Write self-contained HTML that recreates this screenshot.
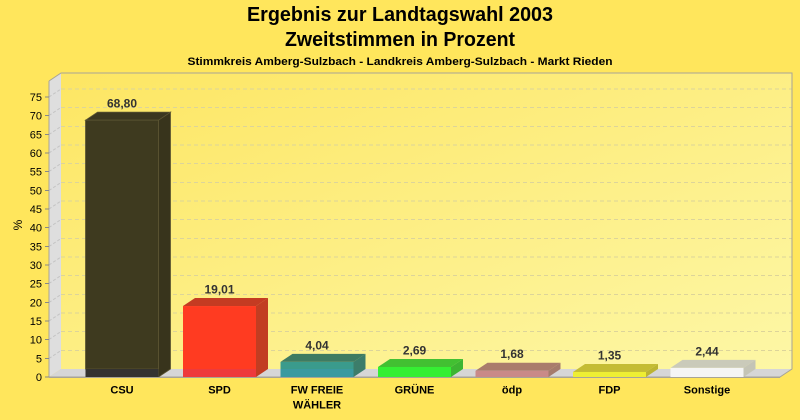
<!DOCTYPE html>
<html><head><meta charset="utf-8"><style>
html,body{margin:0;padding:0;background:#ffe65c;}
svg{display:block;}
text{font-family:"Liberation Sans",Arial,sans-serif;}
</style></head><body>
<svg width="800" height="420" viewBox="0 0 800 420" xmlns="http://www.w3.org/2000/svg">
<defs>
<linearGradient id="wall" x1="0" y1="0" x2="1" y2="1">
<stop offset="0" stop-color="#fde663"/>
<stop offset="1" stop-color="#fdf7a6"/>
</linearGradient>
</defs>
<rect x="0" y="0" width="800" height="420" fill="#ffe65c"/>
<!-- titles -->
<text x="400" y="21" text-anchor="middle" font-size="20" font-weight="bold" fill="#000" textLength="306" lengthAdjust="spacingAndGlyphs">Ergebnis zur Landtagswahl 2003</text>
<text x="400" y="46" text-anchor="middle" font-size="20" font-weight="bold" fill="#000" textLength="230" lengthAdjust="spacingAndGlyphs">Zweitstimmen in Prozent</text>
<text x="400" y="65" text-anchor="middle" font-size="11" font-weight="bold" fill="#000" textLength="425" lengthAdjust="spacingAndGlyphs">Stimmkreis Amberg-Sulzbach - Landkreis Amberg-Sulzbach - Markt Rieden</text>

<!-- back wall -->
<rect x="61" y="73" width="731" height="296" fill="url(#wall)"/>
<!-- side wall -->
<polygon points="49,81 61,73 61,369 49,377" fill="#dedede"/>
<!-- floor -->
<polygon points="49,377 61,369 792,369 780,377" fill="#d6d6d6"/>

<!-- gridlines back -->
<g stroke="#dcd49a" stroke-width="1" stroke-dasharray="4,3" fill="none">
<line x1="61" y1="350.5" x2="792" y2="350.5"/>
<line x1="61" y1="331.5" x2="792" y2="331.5"/>
<line x1="61" y1="313" x2="792" y2="313"/>
<line x1="61" y1="294.5" x2="792" y2="294.5"/>
<line x1="61" y1="275.5" x2="792" y2="275.5"/>
<line x1="61" y1="257" x2="792" y2="257"/>
<line x1="61" y1="238.5" x2="792" y2="238.5"/>
<line x1="61" y1="219.5" x2="792" y2="219.5"/>
<line x1="61" y1="201" x2="792" y2="201"/>
<line x1="61" y1="182.5" x2="792" y2="182.5"/>
<line x1="61" y1="163.5" x2="792" y2="163.5"/>
<line x1="61" y1="145" x2="792" y2="145"/>
<line x1="61" y1="126.5" x2="792" y2="126.5"/>
<line x1="61" y1="107.5" x2="792" y2="107.5"/>
<line x1="61" y1="89" x2="792" y2="89"/>
</g>
<!-- gridlines side -->
<g stroke="#c4c4c4" stroke-width="1" stroke-dasharray="3,2" fill="none">
<line x1="49" y1="358.5" x2="61" y2="350.5"/>
<line x1="49" y1="339.5" x2="61" y2="331.5"/>
<line x1="49" y1="321" x2="61" y2="313"/>
<line x1="49" y1="302.5" x2="61" y2="294.5"/>
<line x1="49" y1="283.5" x2="61" y2="275.5"/>
<line x1="49" y1="265" x2="61" y2="257"/>
<line x1="49" y1="246.5" x2="61" y2="238.5"/>
<line x1="49" y1="227.5" x2="61" y2="219.5"/>
<line x1="49" y1="209" x2="61" y2="201"/>
<line x1="49" y1="190.5" x2="61" y2="182.5"/>
<line x1="49" y1="171.5" x2="61" y2="163.5"/>
<line x1="49" y1="153" x2="61" y2="145"/>
<line x1="49" y1="134.5" x2="61" y2="126.5"/>
<line x1="49" y1="115.5" x2="61" y2="107.5"/>
<line x1="49" y1="97" x2="61" y2="89"/>
</g>

<!-- borders -->
<polyline points="49,81 61,73 792,73 792,369 780,377 49,377 49,81" fill="none" stroke="#a8a496" stroke-width="1"/>

<!-- ticks -->
<g stroke="#888" stroke-width="1">
<line x1="45" y1="377" x2="49" y2="377"/>
<line x1="45" y1="358.5" x2="49" y2="358.5"/>
<line x1="45" y1="339.5" x2="49" y2="339.5"/>
<line x1="45" y1="321" x2="49" y2="321"/>
<line x1="45" y1="302.5" x2="49" y2="302.5"/>
<line x1="45" y1="283.5" x2="49" y2="283.5"/>
<line x1="45" y1="265" x2="49" y2="265"/>
<line x1="45" y1="246.5" x2="49" y2="246.5"/>
<line x1="45" y1="227.5" x2="49" y2="227.5"/>
<line x1="45" y1="209" x2="49" y2="209"/>
<line x1="45" y1="190.5" x2="49" y2="190.5"/>
<line x1="45" y1="171.5" x2="49" y2="171.5"/>
<line x1="45" y1="153" x2="49" y2="153"/>
<line x1="45" y1="134.5" x2="49" y2="134.5"/>
<line x1="45" y1="115.5" x2="49" y2="115.5"/>
<line x1="45" y1="97" x2="49" y2="97"/>
</g>
<g font-size="11" fill="#000" text-anchor="end">
<text x="42" y="381">0</text>
<text x="42" y="362.5">5</text>
<text x="42" y="343.5">10</text>
<text x="42" y="325">15</text>
<text x="42" y="306.5">20</text>
<text x="42" y="287.5">25</text>
<text x="42" y="269">30</text>
<text x="42" y="250.5">35</text>
<text x="42" y="231.5">40</text>
<text x="42" y="213">45</text>
<text x="42" y="194.5">50</text>
<text x="42" y="175.5">55</text>
<text x="42" y="157">60</text>
<text x="42" y="138.5">65</text>
<text x="42" y="119.5">70</text>
<text x="42" y="101">75</text>
</g>
<text x="0" y="0" font-size="12" fill="#000" text-anchor="middle" transform="translate(22,225) rotate(-90)">%</text>

<!-- bars -->
<!-- CSU -->
<polygon points="158.5,120.15 170.5,112.15 170.5,369 158.5,377" fill="#38341c" stroke="#5c5633" stroke-width="0.8"/>
<polygon points="85.5,120.15 97.5,112.15 170.5,112.15 158.5,120.15" fill="#3b3720" stroke="#5c5633" stroke-width="0.8"/>
<rect x="85.5" y="120.15" width="73" height="248.85" fill="#3e3a1f" stroke="#5c5633" stroke-width="0.8"/>
<rect x="85.5" y="369" width="73" height="8" fill="#343330"/>
<!-- SPD -->
<polygon points="256,306.03 268,298.03 268,369 256,377" fill="#c23d22"/>
<polygon points="183,306.03 195,298.03 268,298.03 256,306.03" fill="#c43b22"/>
<rect x="183" y="306.03" width="73" height="62.97" fill="#ff3b21"/>
<rect x="183" y="369" width="73" height="8" fill="#ee3a3c"/>
<!-- FW -->
<polygon points="353.5,361.92 365.5,353.92 365.5,369 353.5,377" fill="#3c7d6a"/>
<polygon points="280.5,361.92 292.5,353.92 365.5,353.92 353.5,361.92" fill="#3e7b62"/>
<rect x="280.5" y="361.92" width="73" height="7.08" fill="#3a9b8c"/>
<rect x="280.5" y="369" width="73" height="8" fill="#3a9aa0"/>
<!-- GRUENE -->
<polygon points="451,366.96 463,358.96 463,369 451,377" fill="#3db532"/>
<polygon points="378,366.96 390,358.96 463,358.96 451,366.96" fill="#42c032"/>
<rect x="378" y="366.96" width="73" height="10.04" fill="#35ef33"/>
<!-- oedp -->
<polygon points="548.5,370.73 560.5,362.73 560.5,369 548.5,377" fill="#a47b6c"/>
<polygon points="475.5,370.73 487.5,362.73 560.5,362.73 548.5,370.73" fill="#a97c6c"/>
<rect x="475.5" y="370.73" width="73" height="6.27" fill="#c98a88"/>
<!-- FDP -->
<polygon points="646,371.96 658,363.96 658,369 646,377" fill="#bcb432"/>
<polygon points="573,371.96 585,363.96 658,363.96 646,371.96" fill="#c4bc34"/>
<rect x="573" y="371.96" width="73" height="5.04" fill="#eeee33"/>
<!-- Sonstige -->
<polygon points="743.5,367.89 755.5,359.89 755.5,369 743.5,377" fill="#c4c4b6"/>
<polygon points="670.5,367.89 682.5,359.89 755.5,359.89 743.5,367.89" fill="#cacaba"/>
<rect x="670.5" y="367.89" width="73" height="9.11" fill="#f5f5f5"/>

<!-- floor front edge -->
<line x1="49" y1="377.5" x2="780" y2="377.5" stroke="#a8a496" stroke-width="1"/>

<!-- value labels -->
<g font-size="12" font-weight="bold" fill="#333" text-anchor="middle">
<text x="122" y="107.5">68,80</text>
<text x="219.5" y="293.5">19,01</text>
<text x="317" y="349.5">4,04</text>
<text x="414.5" y="354.5">2,69</text>
<text x="512" y="358">1,68</text>
<text x="609.5" y="359.5">1,35</text>
<text x="707" y="355.5">2,44</text>
</g>

<!-- category labels -->
<g font-size="11" font-weight="bold" fill="#000" text-anchor="middle">
<text x="122" y="393.5">CSU</text>
<text x="219.5" y="393.5">SPD</text>
<text x="317" y="393.5">FW FREIE</text>
<text x="317" y="408.5">WÄHLER</text>
<text x="414.5" y="393.5">GRÜNE</text>
<text x="512" y="393.5">ödp</text>
<text x="609.5" y="393.5">FDP</text>
<text x="707" y="393.5">Sonstige</text>
</g>
</svg>
</body></html>
